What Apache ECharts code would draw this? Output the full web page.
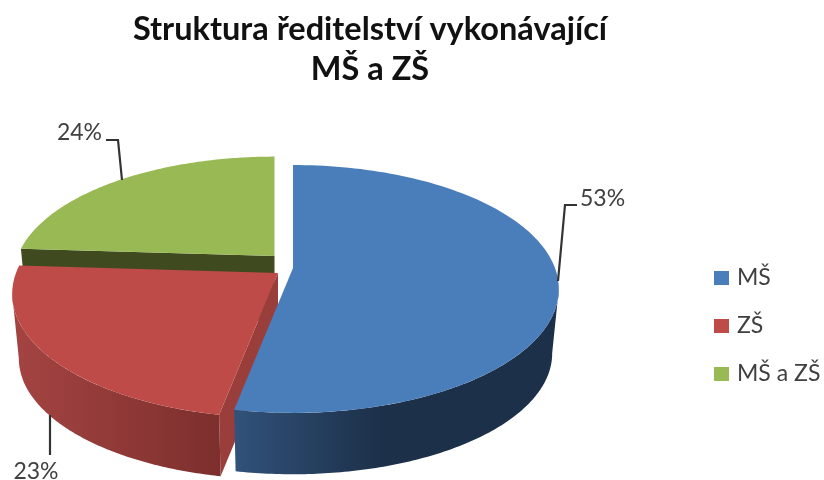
<!DOCTYPE html>
<html><head><meta charset="utf-8">
<style>html,body{margin:0;padding:0;background:#fff}#c{width:824px;height:480px}</style>
<script src="https://cdn.jsdelivr.net/npm/echarts@6/dist/echarts.min.js"></script>
</head><body><div id="c"></div>
<script>
const titleText = 'Struktura ředitelství vykonávající\nMŠ a ZŠ';
const categories = ['MŠ', 'ZŠ', 'MŠ a ZŠ'];
const shares = [53, 23, 24];
const colors = ['#4a7ebb', '#be4b48', '#98b954'];

// 3D projection of the pie, styling only
const Rx = 262, Ry = 120.4, P = 0.169, depth = 65, bottomScale = 0.975;
const apexes = [[293, 268], [278, 273], [274.5, 256]];
const radiusScale = [[1, 1], [1, 1], [0.98, 0.965]];
const wallGrad = [['#31527a', '#1c3049'], ['#a44442', '#7c2f2d'], ['#3f4a1e', '#3f4a1e']];
const radialWall = [null, '#9a3e3c', '#3f4a1e'];
const leaders = [
  [[558, 281], [565, 205], [577, 205]],
  [[50, 415], [50, 455]],
  [[122, 180], [118, 140], [106, 140]]
];
const labelPos = [[580, 199, 'left'], [36, 472, 'center'], [102, 133, 'right']];
const total = shares.reduce((a, b) => a + b, 0);

function project(idx, theta, bottom) {
  const apex = apexes[idx], k = radiusScale[idx];
  const s = bottom ? bottomScale : 1, dz = bottom ? depth : 0;
  const u = Math.sin(theta), v = Math.cos(theta), w = 1 + P * v;
  return [apex[0] + k[0] * s * Rx * u / w, apex[1] + dz - k[1] * s * Ry * v / w];
}
function arc(idx, a0, a1, bottom) {
  const pts = [], n = 120;
  for (let i = 0; i <= n; i++) pts.push(project(idx, a0 + (a1 - a0) * i / n, bottom));
  return pts;
}
function renderSlice(idx) {
  return function (params, api) {
    const start = api.value(1) / total * 2 * Math.PI;
    const end = (api.value(1) + api.value(0)) / total * 2 * Math.PI;
    const apex = apexes[idx];
    const children = [];
    // radial wall at the start of the slice
    if (radialWall[idx]) {
      const a = project(idx, start, false), b = project(idx, start, true);
      const ab = [apex[0], apex[1] + depth];
      children.push({ type: 'polygon', shape: { points: [apex, a, b, ab] },
        style: { fill: radialWall[idx] } });
    }
    // outer wall on the front part of the rim
    const wa = Math.max(start, 99.7 * Math.PI / 180), wb = Math.min(end, 260.3 * Math.PI / 180);
    if (wb > wa && idx !== 2) {
      const top = arc(idx, wa, wb, false), bot = arc(idx, wa, wb, true).reverse();
      const right = idx === 0;
      children.push({ type: 'polygon', shape: { points: top.concat(bot) },
        style: { fill: new echarts.graphic.LinearGradient(0, 0, 1, 0, right ? [
          { offset: 0, color: wallGrad[idx][0] }, { offset: 0.45, color: wallGrad[idx][1] }, { offset: 1, color: wallGrad[idx][1] }
        ] : [
          { offset: 0, color: wallGrad[idx][0] }, { offset: 1, color: wallGrad[idx][1] }
        ]) } });
    }
    // top face
    children.push({ type: 'polygon', shape: { points: [apex].concat(arc(idx, start, end, false)) },
      style: { fill: api.visual('color') } });
    // leader and label
    children.push({ type: 'polyline', shape: { points: leaders[idx] }, z2: 5,
      style: { stroke: '#333', lineWidth: 2.2, fill: null } });
    const lp = labelPos[idx];
    children.push({ type: 'text', x: lp[0], y: lp[1], z2: 6,
      style: { text: Math.round(api.value(0) / total * 100) + '%', textAlign: lp[2], textVerticalAlign: 'middle',
        font: '23px Lato, "Open Sans", sans-serif', fill: '#404040' } });
    return { type: 'group', children };
  };
}
let cum = 0;
const series = categories.map((name, i) => {
  const row = [shares[i], cum];
  cum += shares[i];
  return { type: 'custom', name, coordinateSystem: 'none', z: i === 0 ? 4 : (i === 1 ? 3 : 2),
    itemStyle: { color: colors[i] }, silent: true, animation: false,
    renderItem: renderSlice(i), data: [row] };
});
const chart = echarts.init(document.getElementById('c'), null, { renderer: 'canvas' });
chart.setOption({
  animation: false,
  backgroundColor: '#fff',
  title: { text: titleText, left: 365, top: 5, textAlign: 'center',
    textStyle: { fontFamily: 'Lato, "Open Sans", sans-serif', fontWeight: 'bold', fontSize: 32.5, lineHeight: 40, color: '#111' } },
  legend: { orient: 'vertical', left: 709, top: 261, itemWidth: 15, itemHeight: 14, itemGap: 24,
    icon: 'rect', data: categories, selectedMode: false,
    textStyle: { fontFamily: 'Lato, "Open Sans", sans-serif', fontSize: 23, color: '#404040', padding: [0, 0, 0, 3], lineHeight: 24 } },
  series
});
</script></body></html>
